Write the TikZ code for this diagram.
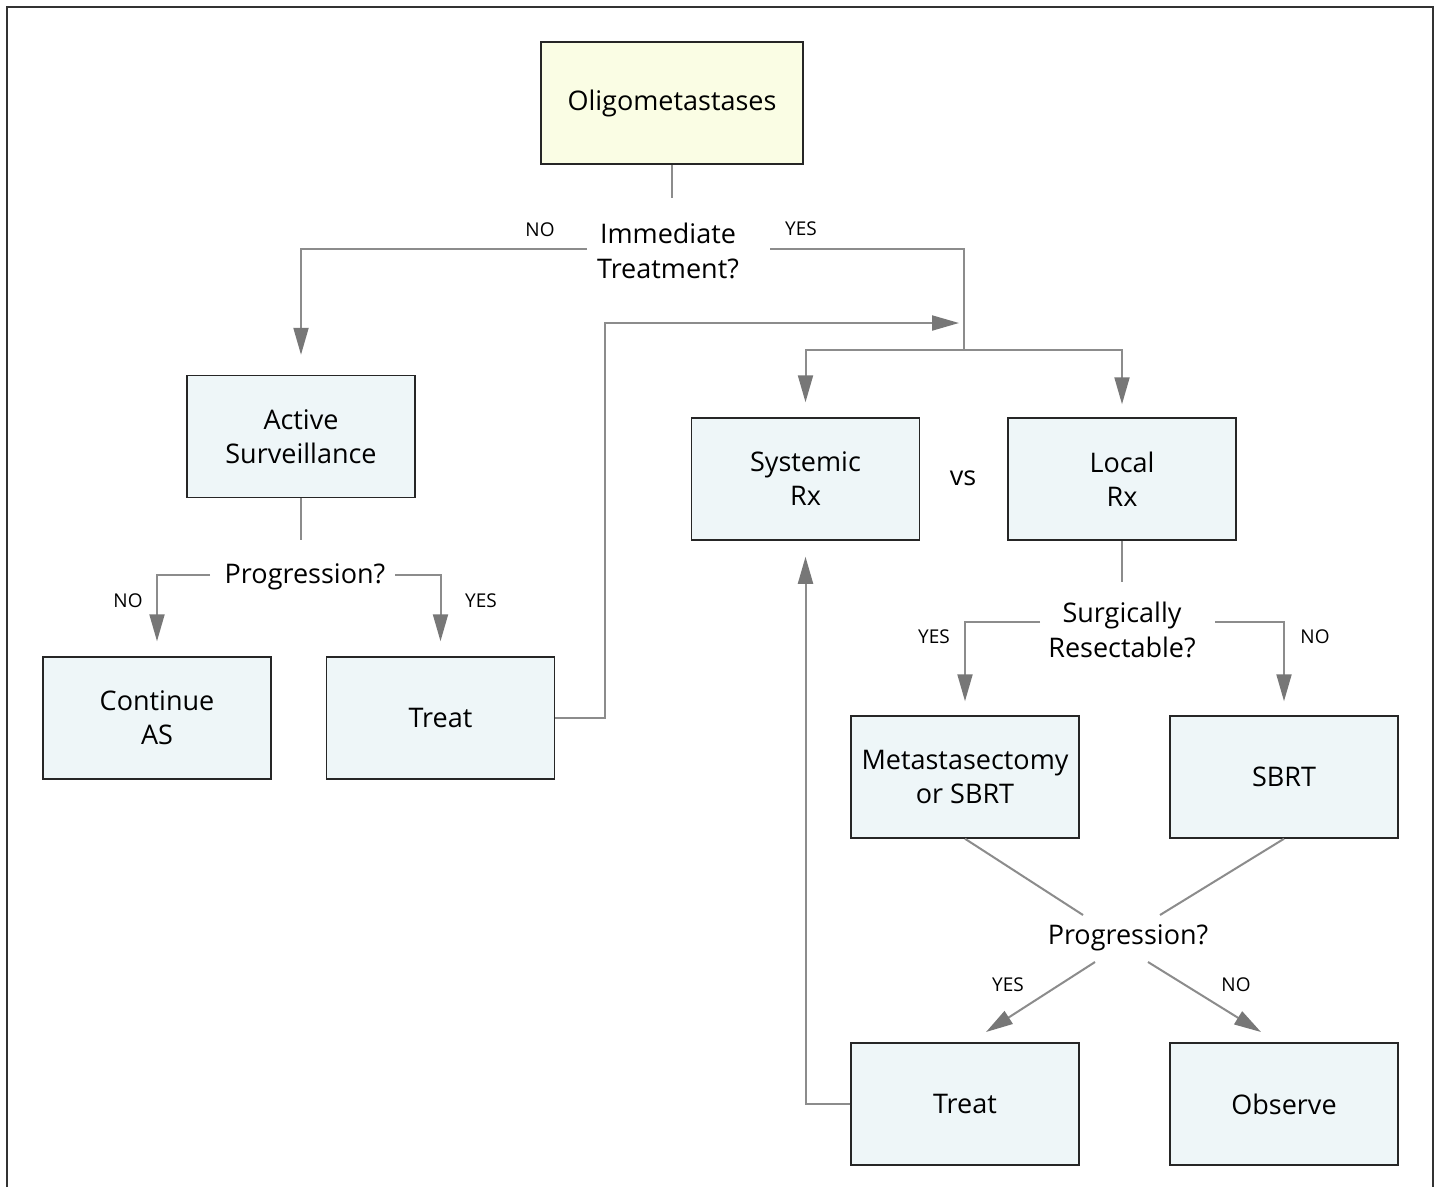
\documentclass[tikz,border=0pt]{standalone}
\usepackage{fontspec}
\setmainfont{Open Sans}
\usetikzlibrary{arrows.meta}
\definecolor{boxfill}{HTML}{EEF6F8}
\definecolor{yfill}{HTML}{FAFDE4}
\definecolor{linegray}{HTML}{8C8C8C}
\definecolor{tipgray}{HTML}{777777}
\begin{document}
\begin{tikzpicture}[x=1pt,y=-1pt,
  box/.style={draw=black!85,line width=1.5pt,fill=boxfill,minimum width=228pt,minimum height=122pt,align=center,font=\fontsize{27}{34}\selectfont,inner sep=0pt},
  qtext/.style={align=center,font=\fontsize{27}{35}\selectfont,inner sep=0pt},
  lab/.style={font=\fontsize{19}{22}\selectfont,inner sep=0pt},
  conn/.style={draw=linegray,line width=2pt},
  arr/.style={conn,-{Triangle[length=27pt,width=15pt,color=tipgray]}}
]
\useasboundingbox (0,0) rectangle (1439,1187);
\fill[white] (0,0) rectangle (1439,1187);
\draw[black!80,line width=2pt] (7,1187) -- (7,7) -- (1433,7) -- (1433,1187);

% boxes
\node[box,fill=yfill,minimum width=262pt] (olig) at (672,103) {Oligometastases};
\node[box] (as) at (301,436.5) {Active\\Surveillance};
\node[box] (cont) at (157,718) {Continue\\AS};
\node[box] (treat1) at (440.5,718) {Treat};
\node[box] (sys) at (805.5,479) {Systemic\\Rx};
\node[box] (local) at (1122,479) {Local\\Rx};
\node[box] (meta) at (965,777) {Metastasectomy\\or SBRT};
\node[box] (sbrt) at (1284,777) {SBRT};
\node[box] (treat2) at (965,1104) {Treat};
\node[box] (obs) at (1284,1104) {Observe};

% questions
\node[qtext] (q1) at (668,251) {Immediate\\Treatment?};
\node[qtext] (q2) at (305,577) {Progression?};
\node[qtext] (q3) at (1122,630) {Surgically\\Resectable?};
\node[qtext] (q4) at (1128,938) {Progression?};
\node[qtext] (vs) at (963,478) {vs};

% labels
\node[lab] (l1) at (540,230) {NO};
\node[lab] (l2) at (801,229) {YES};
\node[lab] (l3) at (128,601) {NO};
\node[lab] (l4) at (481,601) {YES};
\node[lab] (l5) at (934,637) {YES};
\node[lab] (l6) at (1315,637) {NO};
\node[lab] (l7) at (1008,985) {YES};
\node[lab] (l8) at (1236,985) {NO};

% coordinates
\coordinate (c1) at (672,198);
\coordinate (q1l) at (587,249);
\coordinate (q1r) at (770,249);
\coordinate (j1) at (964,350);
\coordinate (c2) at (301,540);
\coordinate (q2l) at (210,575);
\coordinate (q2r) at (395,575);
\coordinate (k) at (605,323);
\coordinate (j2) at (959,323);
\coordinate (c3) at (1122,582);
\coordinate (q3l) at (1040,622);
\coordinate (q3r) at (1215,622);
\coordinate (d1) at (1083,915);
\coordinate (d2) at (1160,915);
\coordinate (e1) at (1095,962);
\coordinate (e2) at (986,1032);
\coordinate (f1) at (1148,962);
\coordinate (f2) at (1261,1032);

% connectors
\draw[conn] (olig.south) -- (c1);
\draw[arr,shorten >=20pt] (q1l) -| (as.north);
\draw[conn] (q1r) -| (j1);
\draw[arr,shorten >=15pt] (j1) -| (sys.north);
\draw[arr,shorten >=13pt] (j1) -| (local.north);
\draw[conn] (as.south) -- (c2);
\draw[arr,shorten >=15pt] (q2l) -| (cont.north);
\draw[arr,shorten >=15pt] (q2r) -| (treat1.north);
\draw[arr] (treat1.east) -| (k) -- (j2);
\draw[conn] (local.south) -- (c3);
\draw[arr,shorten >=14pt] (q3l) -| (meta.north);
\draw[arr,shorten >=14pt] (q3r) -| (sbrt.north);
\draw[conn] (meta.south) -- (d1);
\draw[conn] (sbrt.south) -- (d2);
\draw[arr] (e1) -- (e2);
\draw[arr] (f1) -- (f2);
\draw[arr,shorten >=16pt] (treat2.west) -| (sys.south);
\end{tikzpicture}
\end{document}
